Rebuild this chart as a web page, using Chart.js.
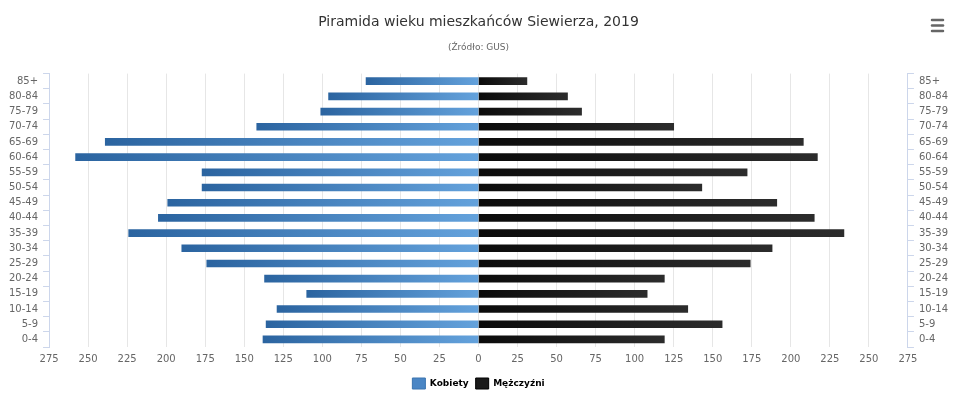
<!DOCTYPE html>
<html lang="pl">
<head>
<meta charset="utf-8">
<title>Piramida wieku mieszkańców Siewierza, 2019</title>
<script src="https://cdn.jsdelivr.net/npm/chart.js@4/dist/chart.umd.min.js"></script>
<style>
  html, body { margin: 0; padding: 0; background: #fff; }
  #wrap { width: 960px; height: 399px; position: relative; }
</style>
</head>
<body>
<div id="wrap"><canvas id="pyramid"></canvas></div>
<script>
// --- DATA ---
const ageGroups = ["85+", "80-84", "75-79", "70-74", "65-69", "60-64", "55-59", "50-54", "45-49",
  "40-44", "35-39", "30-34", "25-29", "20-24", "15-19", "10-14", "5-9", "0-4"];
const women = [72, 96, 101, 142, 239, 258, 177, 177, 199, 205, 224, 190, 174, 137, 110, 129, 136, 138];
const men = [31, 57, 66, 125, 208, 217, 172, 143, 191, 215, 234, 188, 174, 119, 108, 134, 156, 119];
const seriesNames = ["Kobiety", "Mężczyźni"];
const axisLimit = 275;
const axisStep = 25;

const FONT = "'DejaVu Sans', Verdana, sans-serif";

// gradient along each bar, from its tip to the centre line
function barGradient(ctx, tipColor, baseColor) {
  const chart = ctx.chart;
  const xs = chart.scales.x;
  if (!xs || ctx.type !== "data" || typeof ctx.raw !== "number") return baseColor;
  const x0 = xs.getPixelForValue(0);
  const x1 = xs.getPixelForValue(ctx.raw);
  if (!isFinite(x0) || !isFinite(x1) || x0 === x1) return baseColor;
  const g = chart.ctx.createLinearGradient(x1, 0, x0, 0);
  g.addColorStop(0, tipColor);
  g.addColorStop(1, baseColor);
  return g;
}

// hamburger (export menu) icon in the top right corner
const menuIcon = {
  id: "menuIcon",
  afterDraw(chart) {
    const c = chart.ctx;
    c.save();
    c.strokeStyle = "#666";
    c.lineWidth = 2.5;
    c.lineCap = "round";
    [20, 25.5, 31].forEach((y) => {
      c.beginPath();
      c.moveTo(932, y);
      c.lineTo(943, y);
      c.stroke();
    });
    c.restore();
  },
};

const axisColor = "#ccd6eb";
const tickFont = { family: FONT, size: 10 };

new Chart(document.getElementById("pyramid"), {
  type: "bar",
  data: {
    labels: ageGroups,
    datasets: [
      {
        label: seriesNames[0],
        data: women.map((v) => -v),
        backgroundColor: (ctx) => barGradient(ctx, "#2b64a0", "#64a2dc"),
        barThickness: 7,
        borderWidth: 0,
      },
      {
        label: seriesNames[1],
        data: men,
        backgroundColor: (ctx) => barGradient(ctx, "#2c2c2c", "#0b0b0b"),
        barThickness: 7,
        borderWidth: 0,
      },
    ],
  },
  options: {
    indexAxis: "y",
    responsive: true,
    maintainAspectRatio: false,
    animation: false,
    layout: { padding: { top: 10, left: 4, right: 7, bottom: 0 } },
    scales: {
      x: {
        stacked: true,
        min: -axisLimit,
        max: axisLimit,
        ticks: {
          stepSize: axisStep,
          color: "#666",
          font: tickFont,
          padding: 6,
          maxRotation: 0,
          autoSkip: false,
          callback: (value) => Math.abs(value),
        },
        grid: { color: "#e6e6e6", drawTicks: false },
        border: { display: false },
      },
      y: {
        stacked: true,
        position: "left",
        offset: true,
        ticks: { color: "#666", font: tickFont, padding: 5, autoSkip: false },
        grid: { offset: true, drawOnChartArea: false, color: axisColor, tickLength: 6 },
        border: { color: axisColor },
      },
      y2: {
        type: "category",
        position: "right",
        offset: true,
        ticks: { color: "#666", font: tickFont, padding: 5, autoSkip: false },
        grid: { offset: true, drawOnChartArea: false, color: axisColor, tickLength: 6 },
        border: { color: axisColor },
      },
    },
    plugins: {
      title: {
        display: true,
        text: "Piramida wieku mieszkańców Siewierza, 2019",
        color: "#333",
        font: { family: FONT, size: 14, weight: "normal" },
        padding: { top: 4, bottom: 11 },
      },
      subtitle: {
        display: true,
        text: "(Źródło: GUS)",
        color: "#666",
        font: { family: FONT, size: 9 },
        padding: { top: 0, bottom: 21 },
      },
      legend: {
        position: "bottom",
        labels: {
          color: "#333",
          font: { family: FONT, size: 9, weight: "bold" },
          boxWidth: 13,
          boxHeight: 11,
          padding: 7,
          generateLabels: () => [
            { text: seriesNames[0], fillStyle: "#4a86c5", strokeStyle: "#3a74b0", lineWidth: 1, datasetIndex: 0, hidden: false },
            { text: seriesNames[1], fillStyle: "#1a1a1a", strokeStyle: "#000", lineWidth: 1, datasetIndex: 1, hidden: false },
          ],
        },
      },
      tooltip: {
        callbacks: {
          label: (item) => `${item.dataset.label}: ${Math.abs(item.raw)}`,
        },
      },
    },
  },
  plugins: [menuIcon],
});
</script>
</body>
</html>
